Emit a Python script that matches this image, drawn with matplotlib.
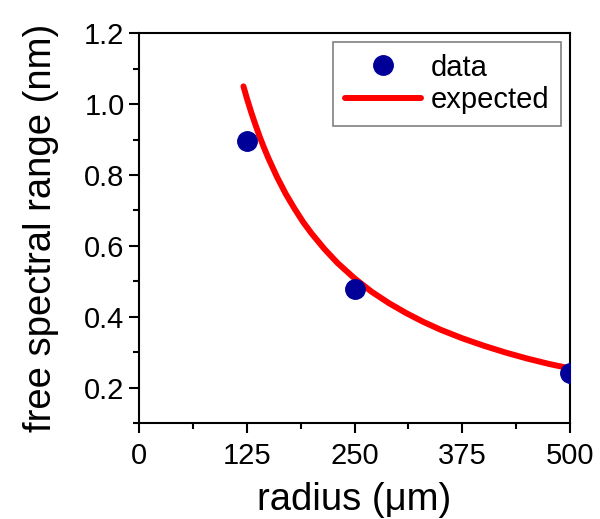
import matplotlib.pyplot as plt
from matplotlib.ticker import MultipleLocator

plt.rcParams['font.family'] = ['Liberation Sans', 'DejaVu Sans']

# measured free spectral range
radius = [125, 250, 500]
fsr = [0.896, 0.477, 0.24]

# expected curve
radius_fit = [121, 125, 130, 135, 140, 145, 150, 160, 170, 180, 190, 200, 215, 230, 250,
              270, 290, 310, 330, 350, 375, 400, 425, 450, 475, 500]
fsr_fit = [1.05, 1.016, 0.977, 0.941, 0.907, 0.876, 0.847, 0.794, 0.747, 0.706, 0.668,
           0.635, 0.591, 0.552, 0.508, 0.470, 0.438, 0.410, 0.385, 0.363, 0.339, 0.318,
           0.299, 0.282, 0.267, 0.254]

fig = plt.figure(figsize=(6, 5.19), dpi=100)
ax = fig.add_axes([0.232, 0.185, 0.718, 0.751])

ax.plot(radius_fit, fsr_fit, color='#ff0000', lw=4.3, solid_capstyle='round', label='expected', zorder=2)
ax.plot(radius, fsr, 'o', color='#000099', ms=14, label='data', zorder=3)

ax.set_xlim(0, 500)
ax.set_ylim(0.1, 1.2)
ax.set_xticks([0, 125, 250, 375, 500])
ax.xaxis.set_minor_locator(MultipleLocator(62.5))
ax.set_yticks([0.2, 0.4, 0.6, 0.8, 1.0, 1.2])
ax.yaxis.set_minor_locator(MultipleLocator(0.1))

for s in ax.spines.values():
    s.set_linewidth(1.5)
ax.tick_params(which='both', direction='out', top=False, right=False, width=1.5, labelsize=21)
ax.tick_params(which='major', length=7)
ax.tick_params(which='minor', length=4.5)
ax.tick_params(axis='x', pad=7)

ax.set_xlabel(u'radius (\u03bcm)', fontsize=27.5, labelpad=8)
ax.set_ylabel('free spectral range (nm)', fontsize=27.5, labelpad=18)

handles, labels = ax.get_legend_handles_labels()
leg = ax.legend(handles[::-1], labels[::-1], loc='upper right', fontsize=21,
                fancybox=False, edgecolor='#808080', framealpha=1,
                handlelength=2.6, handletextpad=0.35, borderpad=0.4,
                labelspacing=0.15, borderaxespad=0.3)
leg.get_frame().set_linewidth(1.2)

plt.savefig('out.png', dpi=100)
